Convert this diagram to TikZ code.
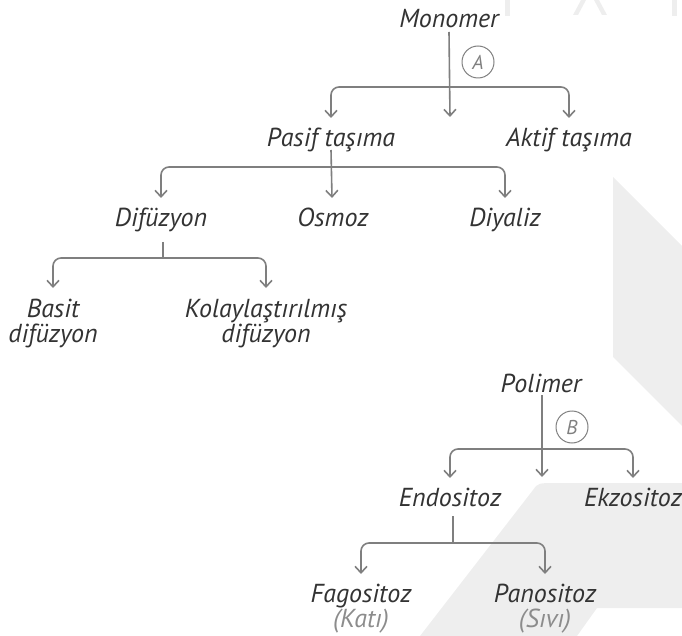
\documentclass[tikz,border=0pt]{standalone}
\usepackage{fontspec}
\setmainfont{PT Sans}
\usepackage{tikz}
\usetikzlibrary{arrows.meta}
\definecolor{linegray}{HTML}{7F7F7F}
\definecolor{textgray}{HTML}{333333}
\definecolor{softgray}{HTML}{8C8C8C}
\definecolor{wmgray}{HTML}{EEEEEE}

\begin{document}
\begin{tikzpicture}[x=1pt,y=-1pt,
  lbl/.style={anchor=base,inner sep=0pt,align=center,
    font=\fontsize{26}{25}\selectfont\itshape,text=textgray},
  link/.style={draw=linegray,line width=1.6pt,rounded corners=8pt},
  tip/.style={-{Straight Barb[length=6.5pt,width=12pt]}},
  tips/.style={{Straight Barb[length=6.5pt,width=12pt]}-{Straight Barb[length=6.5pt,width=12pt]}},
  tag/.style={circle,draw=linegray,line width=1pt,minimum size=32pt,inner sep=0pt,
    font=\fontsize{20}{20}\selectfont\itshape,text=linegray}]

  \useasboundingbox (0,0) rectangle (682,636);

  % background marks
  \fill[wmgray] (613,177) -- (682,246) -- (682,426) -- (613,357) -- cycle;
  \fill[wmgray] (420,636) -- (533,490) .. controls (538,483) .. (557,483)
    -- (682,483) -- (682,608) -- (597,608) -- (577,636) -- cycle;
  \fill[wmgray] (505,0) rectangle (510,16);
  \fill[wmgray] (581,0) -- (586,0) -- (578,15) -- (573,15) -- cycle;
  \fill[wmgray] (594,0) -- (599,0) -- (607,15) -- (602,15) -- cycle;
  \fill[wmgray] (672,0) rectangle (677,16);

  % Monomer
  \node[lbl] (mono) at (449,28) {Monomer};
  \node[lbl] (pasif) at (331,147) {Pasif taşıma};
  \node[lbl] (aktif) at (569,147) {Aktif taşıma};
  \node[lbl] (difz) at (161,226) {Difüzyon};
  \node[lbl] (osmoz) at (333,226) {Osmoz};
  \node[lbl] (diyaliz) at (505,226) {Diyaliz};
  \node[lbl] (basit) at (53,342) {Basit\\difüzyon};
  \node[lbl] (kolay) at (266,342) {Kolaylaştırılmış\\difüzyon};
  \node[tag] (tagA) at (478,62) {A};
  \coordinate (tipA) at (450,117);
  \coordinate (barA) at (450,87);
  \coordinate (barP) at (332,167);
  \coordinate (barD) at (163,258);

  \draw[link,tip] ([yshift=-4pt]mono.base) -- (tipA);
  \draw[link,tips] ([yshift=29pt]pasif.base) |- (barA) -| ([yshift=29pt]aktif.base);
  \draw[link,tip] ([yshift=-3pt]pasif.base) -- ([yshift=28pt]osmoz.base -| barP);
  \draw[link,tips] ([yshift=28pt]difz.base) |- (barP) -| ([yshift=28pt]diyaliz.base);
  \draw[link] ([yshift=-16pt]difz.base -| barD) -- (barD);
  \draw[link,tips] ([yshift=54pt]basit.base) |- (barD) -| ([yshift=54pt]kolay.base);

  % Polimer
  \node[lbl] (poli) at (541,392) {Polimer};
  \node[lbl] (endo) at (450,506) {Endositoz};
  \node[lbl] (ekzo) at (633,506) {Ekzositoz};
  \node[lbl] (fago) at (361,627) {Fagositoz\\\textcolor{softgray}{(Katı)}};
  \node[lbl] (pano) at (545,627) {Panositoz\\\textcolor{softgray}{(Sıvı)}};
  \node[tag] (tagB) at (572,427) {B};
  \coordinate (tipB) at (542,477);
  \coordinate (barB) at (542,449);
  \coordinate (barE) at (453,543);

  \draw[link,tip] ([yshift=-3pt]poli.base -| barB) -- (tipB);
  \draw[link,tips] ([yshift=28pt]endo.base) |- (barB) -| ([yshift=28pt]ekzo.base);
  \draw[link] ([yshift=-10pt]endo.base -| barE) -- (barE);
  \draw[link,tips] ([yshift=53pt]fago.base) |- (barE) -| ([yshift=53pt]pano.base);

\end{tikzpicture}
\end{document}
